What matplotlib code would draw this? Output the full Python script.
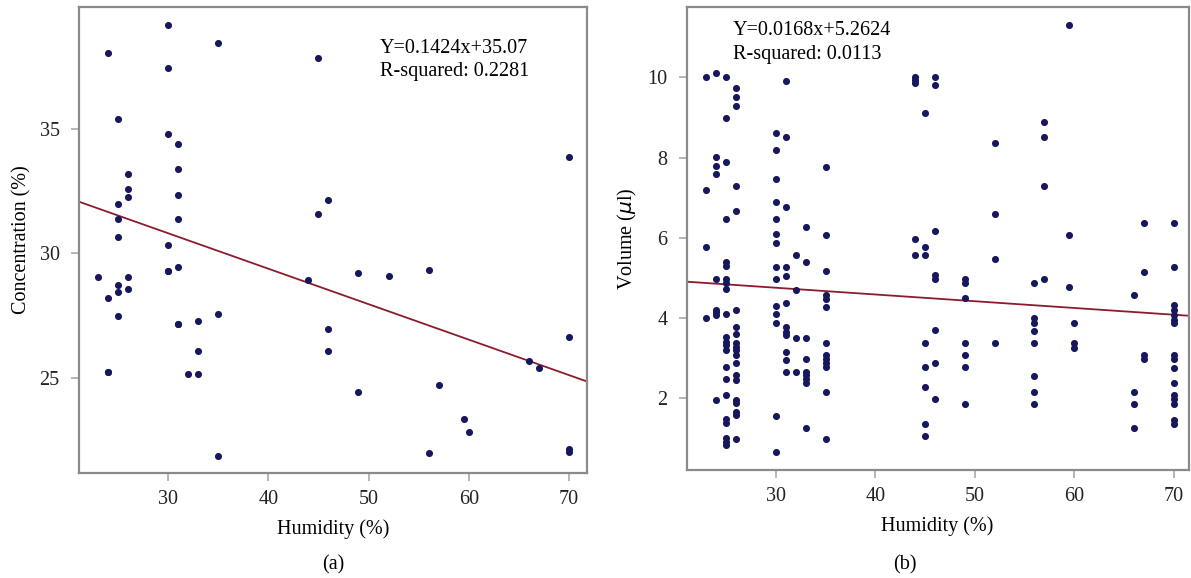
import matplotlib
matplotlib.use("Agg")
import matplotlib.pyplot as plt
import numpy as np

plt.rcParams["font.family"] = ["Liberation Serif", "DejaVu Serif"]

# (a) humidity vs concentration
hum_a = [23, 24, 24, 24, 24,
         25, 25, 25, 25, 25, 25, 25,
         26, 26, 26, 26, 26,
         30, 30, 30, 30, 30, 30,
         31, 31, 31, 31, 31, 31, 31,
         32, 33, 33, 33, 35, 35, 35,
         44, 45, 45, 46, 46, 46, 49, 49, 52,
         56, 56, 57, 59.5, 60, 66, 67, 70, 70, 70, 70]
conc_a = [29.03, 38.04, 28.2, 25.23, 25.23,
          35.39, 31.96, 31.36, 30.65, 28.71, 28.44, 27.46,
          33.17, 32.57, 32.26, 29.03, 28.54,
          39.15, 37.43, 34.79, 30.32, 29.30, 29.30,
          34.38, 33.37, 32.34, 31.36, 29.44, 27.15, 27.15,
          25.15, 27.26, 26.05, 25.15, 38.44, 27.55, 21.85,
          28.94, 37.85, 31.56, 32.14, 26.95, 26.05, 29.2, 24.44, 29.1,
          29.33, 21.99, 24.7, 23.33, 22.8, 25.65, 25.40, 33.88, 26.63, 22.15, 22.0]
fit_a = (-0.1424, 35.07)

# (b) humidity vs volume, one list per humidity column
cols_b = [23, 24, 25, 26, 30, 31, 32, 33, 35,
          44, 45, 46, 49, 52, 56, 57, 59.5, 60, 66, 67, 70]
vol_b = [
    [10.0, 7.19, 5.77, 4.0],
    [10.11, 8.01, 7.79, 7.59, 4.97, 4.20, 4.15, 4.09, 1.96],
    [10.0, 8.98, 7.88, 6.47, 5.41, 5.30, 4.98, 4.88, 4.72, 4.10, 3.54, 3.41,
     3.33, 3.21, 2.79, 2.48, 2.09, 1.48, 1.38, 1.01, 0.92, 0.84],
    [9.73, 9.50, 9.29, 7.29, 6.68, 4.20, 3.79, 3.61, 3.37, 3.29, 3.21, 3.08,
     2.89, 2.59, 2.46, 1.96, 1.88, 1.67, 1.59, 0.98],
    [8.61, 8.18, 7.47, 6.89, 6.47, 6.09, 5.87, 5.27, 4.98, 4.30, 4.10, 3.87,
     1.57, 0.66],
    [9.90, 8.51, 6.78, 5.27, 5.05, 4.39, 3.79, 3.66, 3.58, 3.17, 2.97, 2.67],
    [5.57, 4.70, 3.50, 2.67],
    [6.28, 5.39, 3.50, 2.98, 2.67, 2.59, 2.48, 2.38, 1.26],
    [7.77, 6.07, 5.17, 4.58, 4.48, 4.29, 3.37, 3.08, 2.98, 2.88, 2.78, 2.15, 0.98],
    [10.0, 9.93, 9.85, 5.98, 5.57],
    [9.12, 5.78, 5.57, 3.37, 2.78, 2.29, 1.36, 1.07],
    [10.0, 9.81, 6.18, 5.08, 4.97, 3.70, 2.89, 1.98],
    [4.97, 4.87, 4.50, 3.37, 3.08, 2.78, 1.86],
    [8.37, 6.59, 5.47, 3.37],
    [4.87, 4.0, 3.89, 3.69, 3.37, 2.57, 2.17, 1.86],
    [8.89, 8.51, 7.29, 4.97],
    [11.30, 6.07, 4.78],
    [3.88, 3.37, 3.27],
    [4.58, 2.17, 1.86, 1.26],
    [6.38, 5.16, 3.08, 2.98],
    [6.38, 5.27, 4.33, 4.20, 4.08, 3.96, 3.87, 3.08, 2.98, 2.77, 2.38, 2.09,
     1.98, 1.86, 1.46, 1.36],
]
fit_b = (-0.0168, 5.2624)

hum_b = np.concatenate([[c] * len(v) for c, v in zip(cols_b, vol_b)])
vol_b_all = np.concatenate(vol_b)

DOT = "#17175e"
LINE = "#8c1c2c"
SPINE = "#8a8a8a"
FS = 14.5


def style_axes(ax):
    for s in ax.spines.values():
        s.set_color(SPINE)
        s.set_linewidth(1.6)
    ax.tick_params(direction="out", length=6, width=1.3, color="#b0b0b0",
                   labelsize=FS, labelcolor="#222222")
    ax.tick_params(axis="x", pad=6)
    ax.tick_params(axis="y", pad=8)


fig = plt.figure(figsize=(11.91, 5.78), dpi=100)

ax1 = fig.add_axes([0.0663, 0.1817, 0.4265, 0.806])
ax1.set_xlim(21.1, 71.8)
ax1.set_ylim(21.17, 39.88)
xs = np.array(ax1.get_xlim())
ax1.plot(xs, fit_a[0] * xs + fit_a[1], color=LINE, lw=1.3, zorder=2)
ax1.scatter(hum_a, conc_a, s=26, color=DOT, zorder=3, linewidths=0)
ax1.set_xticks([30, 40, 50, 60, 70])
ax1.set_yticks([25, 30, 35])
style_axes(ax1)
ax1.set_xlabel("Humidity (%)", fontsize=FS, labelpad=8)
ax1.set_ylabel("Concentration (%)", fontsize=FS, labelpad=6)
ax1.text(0.593, 0.912, "Y=0.1424x+35.07", transform=ax1.transAxes,
         fontsize=FS, va="center", ha="left")
ax1.text(0.593, 0.861, "R-squared: 0.2281", transform=ax1.transAxes,
         fontsize=FS, va="center", ha="left")

ax2 = fig.add_axes([0.5766, 0.1869, 0.4214, 0.801])
ax2.set_xlim(21.05, 71.5)
ax2.set_ylim(0.22, 11.75)
xs = np.array(ax2.get_xlim())
ax2.plot(xs, fit_b[0] * xs + fit_b[1], color=LINE, lw=1.3, zorder=2)
ax2.scatter(hum_b, vol_b_all, s=26, color=DOT, zorder=3, linewidths=0)
ax2.set_xticks([30, 40, 50, 60, 70])
ax2.set_yticks([2, 4, 6, 8, 10])
style_axes(ax2)
ax2.set_xlabel("Humidity (%)", fontsize=FS, labelpad=8)
ax2.set_ylabel(r"Volume ($\mu$l)", fontsize=FS, labelpad=6)
ax2.text(0.092, 0.95, "Y=0.0168x+5.2624", transform=ax2.transAxes,
         fontsize=FS, va="center", ha="left")
ax2.text(0.092, 0.898, "R-squared: 0.0113", transform=ax2.transAxes,
         fontsize=FS, va="center", ha="left")

fig.text(333 / 1191, 1 - 565 / 578, "(a)", fontsize=FS, ha="center", va="center")
fig.text(905 / 1191, 1 - 565 / 578, "(b)", fontsize=FS, ha="center", va="center")

fig.savefig("out.png", dpi=100)
